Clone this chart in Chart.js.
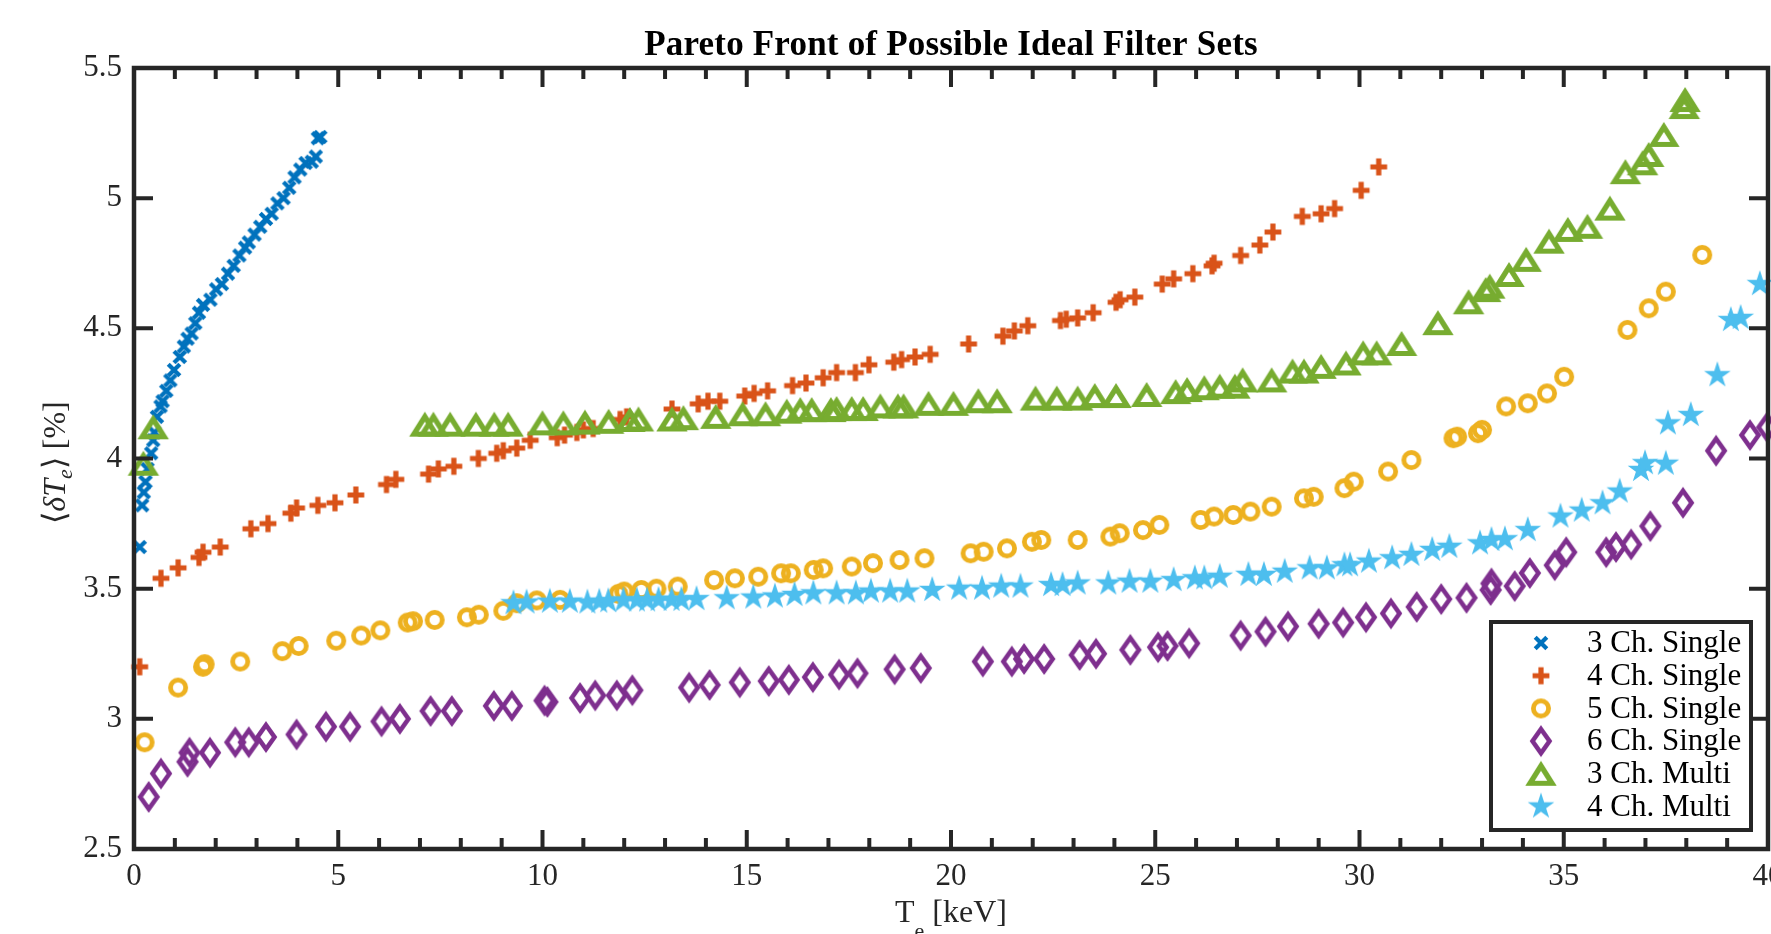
<!DOCTYPE html>
<html>
<head>
<meta charset="utf-8">
<title>Pareto Front of Possible Ideal Filter Sets</title>
<script src="https://cdn.jsdelivr.net/npm/chart.js@4.4.1/dist/chart.umd.min.js"></script>
<style>
  html, body { margin: 0; padding: 0; background: #fff; overflow: hidden; }
  canvas { display: block; }
</style>
</head>
<body>
<canvas id="pareto" width="1771" height="934"></canvas>
<script>
// ── Data ──────────────────────────────────────────────────────
const seriesLabels = ['3 Ch. Single', '4 Ch. Single', '5 Ch. Single', '6 Ch. Single', '3 Ch. Multi', '4 Ch. Multi'];

const ch3SingleX = [0.14,0.20,0.24,0.28,0.33,0.42,0.47,0.50,0.56,0.65,0.70,0.79,0.89,0.98,1.12,1.22,1.31,1.41,1.50,1.59,1.69,1.87,2.01,2.15,2.30,2.44,2.58,2.72,2.81,2.95,3.09,3.23,3.37,3.51,3.66,3.80,3.93,4.07,4.20,4.35,4.45,4.50,4.56];
const ch3SingleY = [3.66,3.82,3.87,3.91,3.96,4.02,4.07,4.10,4.16,4.20,4.22,4.26,4.30,4.34,4.39,4.43,4.46,4.48,4.52,4.56,4.59,4.61,4.65,4.67,4.71,4.74,4.78,4.81,4.83,4.86,4.89,4.92,4.94,4.98,5.00,5.04,5.08,5.11,5.135,5.14,5.16,5.23,5.235];

const ch4SingleX = [0.14,0.66,1.08,1.59,1.69,2.11,2.86,3.28,3.84,3.98,4.50,4.92,5.43,6.18,6.41,7.21,7.45,7.83,8.43,8.88,9.04,9.37,9.70,10.36,10.54,10.84,11.00,11.24,11.90,12.06,13.17,13.81,14.05,14.34,14.95,15.18,15.51,16.12,16.45,16.87,17.20,17.66,17.99,18.60,18.79,19.12,19.49,20.43,21.27,21.55,21.88,22.68,22.82,23.10,23.48,24.04,24.14,24.50,25.17,25.45,25.92,26.39,26.44,27.09,27.56,27.88,28.60,29.06,29.39,30.04,30.47];
const ch4SingleY = [3.20,3.54,3.58,3.62,3.64,3.66,3.73,3.75,3.79,3.81,3.82,3.83,3.86,3.90,3.92,3.94,3.96,3.97,4.00,4.02,4.03,4.04,4.07,4.08,4.09,4.10,4.11,4.115,4.15,4.16,4.19,4.21,4.22,4.22,4.24,4.25,4.26,4.28,4.29,4.31,4.33,4.33,4.36,4.37,4.38,4.39,4.40,4.44,4.47,4.49,4.51,4.53,4.535,4.54,4.56,4.60,4.61,4.62,4.67,4.69,4.71,4.74,4.75,4.78,4.82,4.87,4.93,4.94,4.96,5.03,5.12];

const ch5SingleX = [0.26,1.08,1.69,1.73,2.60,3.63,4.03,4.95,5.56,6.03,6.70,6.83,7.36,8.15,8.44,9.04,9.37,9.86,10.43,11.86,12.00,12.42,12.79,13.31,14.20,14.71,15.28,15.84,16.08,16.64,16.87,17.57,18.09,18.74,19.35,20.48,20.80,21.37,21.98,22.21,23.10,23.90,24.13,24.70,25.10,26.11,26.44,26.91,27.33,27.85,28.64,28.88,29.63,29.86,30.70,31.27,32.30,32.39,32.90,33.00,33.59,34.12,34.59,35.01,36.56,37.08,37.50,38.39];
const ch5SingleY = [2.91,3.12,3.20,3.21,3.22,3.26,3.28,3.30,3.32,3.34,3.37,3.375,3.38,3.39,3.40,3.415,3.444,3.455,3.457,3.48,3.489,3.495,3.50,3.508,3.533,3.54,3.546,3.559,3.559,3.572,3.578,3.585,3.598,3.61,3.617,3.636,3.642,3.655,3.68,3.687,3.687,3.70,3.713,3.725,3.745,3.764,3.777,3.783,3.796,3.815,3.847,3.853,3.886,3.911,3.95,3.994,4.078,4.084,4.097,4.11,4.20,4.212,4.25,4.314,4.494,4.577,4.641,4.782];

const ch6SingleX = [0.36,0.66,1.31,1.36,1.86,2.48,2.81,3.23,3.98,4.70,5.29,6.06,6.51,7.26,7.78,8.81,9.25,10.05,10.12,10.92,11.29,11.82,12.20,13.59,14.09,14.83,15.54,16.03,16.62,17.26,17.71,18.62,19.26,20.78,21.49,21.79,22.28,23.15,23.55,24.39,25.07,25.30,25.83,27.09,27.70,28.25,29.00,29.60,30.16,30.77,31.40,32.00,32.62,33.21,33.23,33.80,34.17,34.78,35.06,36.04,36.28,36.65,37.12,37.92,38.73,39.56,39.98];
const ch6SingleY = [2.70,2.79,2.835,2.87,2.87,2.91,2.91,2.93,2.94,2.97,2.97,2.99,3.00,3.03,3.03,3.05,3.05,3.07,3.065,3.08,3.09,3.09,3.11,3.12,3.13,3.14,3.145,3.15,3.16,3.17,3.175,3.19,3.195,3.22,3.22,3.23,3.23,3.245,3.25,3.265,3.275,3.28,3.29,3.32,3.335,3.355,3.365,3.37,3.39,3.405,3.43,3.46,3.465,3.495,3.52,3.51,3.56,3.59,3.64,3.64,3.66,3.67,3.74,3.83,4.03,4.09,4.12];

const ch3MultiX = [0.23,0.47,7.12,7.33,7.74,8.37,8.82,9.16,10.00,10.51,11.04,11.62,12.14,12.35,13.17,13.45,14.24,14.90,15.46,15.98,16.31,16.59,17.06,17.20,17.57,17.85,18.27,18.70,18.84,19.45,20.06,20.67,21.13,22.07,22.59,23.10,23.52,24.04,24.79,25.50,25.78,26.20,26.58,26.95,27.14,27.85,28.36,28.64,29.06,29.67,30.09,30.42,31.03,31.92,32.67,33.09,33.19,33.66,34.08,34.64,35.10,35.58,36.13,36.51,36.93,37.08,37.45,37.95,37.97];
const ch3MultiY = [3.98,4.12,4.13,4.13,4.13,4.13,4.13,4.13,4.135,4.135,4.138,4.141,4.148,4.15,4.15,4.155,4.16,4.17,4.17,4.18,4.186,4.186,4.186,4.19,4.19,4.19,4.20,4.20,4.20,4.21,4.21,4.22,4.22,4.23,4.23,4.23,4.24,4.24,4.244,4.255,4.263,4.27,4.276,4.276,4.30,4.30,4.334,4.334,4.352,4.365,4.404,4.404,4.44,4.52,4.60,4.647,4.66,4.705,4.763,4.833,4.878,4.89,4.96,5.10,5.134,5.166,5.243,5.35,5.377];

const ch4MultiX = [9.29,9.61,10.18,10.67,11.10,11.39,11.61,11.98,12.31,12.56,12.84,13.16,13.40,13.77,14.51,15.16,15.69,16.17,16.63,17.20,17.67,18.04,18.51,18.93,19.54,20.20,20.76,21.23,21.70,22.45,22.73,23.10,23.85,24.37,24.88,25.45,25.97,26.20,26.58,27.28,27.66,28.17,28.78,29.20,29.63,29.77,30.23,30.80,31.27,31.78,32.20,32.95,33.23,33.56,34.12,34.92,35.44,35.95,36.37,36.89,36.99,37.50,37.55,38.11,38.76,39.09,39.33,39.80];
const ch4MultiY = [3.444,3.447,3.45,3.45,3.447,3.45,3.452,3.455,3.455,3.455,3.457,3.457,3.457,3.46,3.463,3.466,3.47,3.476,3.482,3.482,3.482,3.489,3.489,3.489,3.495,3.50,3.50,3.508,3.508,3.514,3.514,3.52,3.52,3.527,3.527,3.533,3.54,3.54,3.546,3.553,3.553,3.565,3.578,3.578,3.59,3.59,3.604,3.617,3.63,3.649,3.661,3.674,3.687,3.69,3.725,3.777,3.80,3.828,3.873,3.956,3.982,3.98,4.135,4.167,4.32,4.532,4.54,4.67];

const xTickValues = [0, 5, 10, 15, 20, 25, 30, 35, 40];
const yTickValues = [2.5, 3, 3.5, 4, 4.5, 5, 5.5];

// ── Styling ───────────────────────────────────────────────────
const AXIS_CLR = '#262626';
const SERIF    = '"Liberation Serif", "Times New Roman", serif';
const COLORS   = ['#0072BD', '#D95319', '#EDB120', '#7E2F8E', '#77AC30', '#4DBEEE'];
const KINDS    = ['x', 'plus', 'circle', 'diamond', 'triangle', 'star'];

// MATLAB-like marker glyphs drawn once into small canvases
function makeMarker(kind, color) {
    const c = document.createElement('canvas');
    c.width = c.height = 46;
    const g = c.getContext('2d');
    g.translate(23, 23);
    g.strokeStyle = color;
    g.fillStyle = color;
    g.lineJoin = 'miter';
    g.miterLimit = 10;
    g.beginPath();
    switch (kind) {
        case 'x':
            g.lineWidth = 4.2;
            g.moveTo(-5.8, -5.8); g.lineTo(5.8, 5.8);
            g.moveTo(5.8, -5.8);  g.lineTo(-5.8, 5.8);
            g.stroke();
            break;
        case 'plus':
            g.lineWidth = 5.2;
            g.moveTo(-8.4, 0); g.lineTo(8.4, 0);
            g.moveTo(0, -8.4); g.lineTo(0, 8.4);
            g.stroke();
            break;
        case 'circle':
            g.lineWidth = 4.8;
            g.arc(0, 0, 7.6, 0, Math.PI * 2);
            g.stroke();
            break;
        case 'diamond':
            g.lineWidth = 4.6;
            g.moveTo(0, -12); g.lineTo(8.5, 0); g.lineTo(0, 12); g.lineTo(-8.5, 0);
            g.closePath();
            g.stroke();
            break;
        case 'triangle':
            g.lineWidth = 5.2;
            g.moveTo(0, -8); g.lineTo(11, 9.5); g.lineTo(-11, 9.5);
            g.closePath();
            g.stroke();
            break;
        case 'star': {
            const R = 14, r = R * 0.382;
            for (let i = 0; i < 10; i++) {
                const ang = -Math.PI / 2 + i * Math.PI / 5;
                const rad = i % 2 ? r : R;
                const px = Math.cos(ang) * rad, py = Math.sin(ang) * rad;
                i ? g.lineTo(px, py) : g.moveTo(px, py);
            }
            g.closePath();
            g.fill();
            break;
        }
    }
    return c;
}
const MARKERS = KINDS.map((k, i) => makeMarker(k, COLORS[i]));

const seriesX = [ch3SingleX, ch4SingleX, ch5SingleX, ch6SingleX, ch3MultiX, ch4MultiX];
const seriesY = [ch3SingleY, ch4SingleY, ch5SingleY, ch6SingleY, ch3MultiY, ch4MultiY];

const datasets = seriesLabels.map((label, i) => ({
    label,
    data: seriesX[i].map((x, j) => ({ x, y: seriesY[i][j] })),
    pointStyle: MARKERS[i],
    pointRadius: 10,
    pointHoverRadius: 10,
    borderColor: COLORS[i],
    backgroundColor: COLORS[i],
    showLine: false,
    clip: false,
    order: seriesLabels.length - i,   // later series on top, as in MATLAB
}));

// ── Helpers for mixed-font labels (subscripts) ────────────────
function drawRich(ctx, parts, cx, baseY) {
    let total = 0;
    parts.forEach(p => { ctx.font = p.font; p.w = ctx.measureText(p.t).width; total += p.w; });
    let x = cx - total / 2;
    ctx.textAlign = 'left';
    ctx.textBaseline = 'alphabetic';
    parts.forEach(p => { ctx.font = p.font; ctx.fillText(p.t, x, baseY + (p.dy || 0)); x += p.w; });
}

// ── Frame, ticks, labels, title, legend ───────────────────────
const matlabFrame = {
    id: 'matlabFrame',
    afterDatasetsDraw(chart) {
        const { ctx, chartArea: a, scales: { x, y } } = chart;
        ctx.save();
        ctx.strokeStyle = AXIS_CLR;
        ctx.lineWidth = 4;
        ctx.lineCap = 'butt';
        ctx.beginPath();
        for (let v = x.min; v <= x.max; v += 1) {
            const px = x.getPixelForValue(v);
            const len = v % 5 === 0 ? 19 : 11;
            ctx.moveTo(px, a.bottom); ctx.lineTo(px, a.bottom - len);
            ctx.moveTo(px, a.top);    ctx.lineTo(px, a.top + len);
        }
        yTickValues.forEach(v => {
            const py = y.getPixelForValue(v);
            ctx.moveTo(a.left, py);  ctx.lineTo(a.left + 19, py);
            ctx.moveTo(a.right, py); ctx.lineTo(a.right - 19, py);
        });
        ctx.stroke();
        ctx.lineWidth = 4.5;
        ctx.strokeRect(a.left, a.top, a.right - a.left, a.bottom - a.top);

        // x tick labels (drawn here so the "40" may run off the canvas edge)
        ctx.fillStyle = AXIS_CLR;
        ctx.font = `31px ${SERIF}`;
        ctx.textAlign = 'center';
        ctx.textBaseline = 'middle';
        xTickValues.forEach(v => ctx.fillText(String(v), x.getPixelForValue(v), a.bottom + 28));
        ctx.restore();
    },
    afterDraw(chart) {
        const { ctx, chartArea: a } = chart;
        ctx.save();

        // title
        ctx.fillStyle = '#000';
        ctx.font = `bold 35px ${SERIF}`;
        ctx.letterSpacing = '0.2px';
        ctx.textAlign = 'center';
        ctx.textBaseline = 'alphabetic';
        ctx.fillText('Pareto Front of Possible Ideal Filter Sets', (a.left + a.right) / 2, 55);
        ctx.letterSpacing = '0px';

        // x label: T_e [keV]
        ctx.fillStyle = AXIS_CLR;
        drawRich(ctx, [
            { t: 'T', font: `32px ${SERIF}` },
            { t: 'e', font: `22px ${SERIF}`, dy: 16 },
            { t: ' [keV]', font: `32px ${SERIF}` },
        ], (a.left + a.right) / 2, 922);

        // y label: <dT_e> [%]
        ctx.save();
        ctx.translate(65, (a.top + a.bottom) / 2 + 4);
        ctx.rotate(-Math.PI / 2);
        drawRich(ctx, [
            { t: '\u27E8', font: `32px ${SERIF}` },
            { t: '\u03B4T', font: `italic 32px ${SERIF}` },
            { t: 'e', font: `italic 22px ${SERIF}`, dy: 7 },
            { t: '\u27E9', font: `32px ${SERIF}` },
            { t: ' [%]', font: `32px ${SERIF}` },
        ], 0, 0);
        ctx.restore();

        // legend box
        const L = { left: 1491, top: 622, w: 260, h: 208 };
        ctx.fillStyle = '#fff';
        ctx.fillRect(L.left, L.top, L.w, L.h);
        ctx.strokeStyle = AXIS_CLR;
        ctx.lineWidth = 4;
        ctx.strokeRect(L.left, L.top, L.w, L.h);
        ctx.font = `31px ${SERIF}`;
        ctx.fillStyle = '#000';
        ctx.textAlign = 'left';
        ctx.textBaseline = 'middle';
        chart.data.datasets.forEach((ds, i) => {
            const cy = L.top + 21 + i * 32.7;
            const m = ds.pointStyle;
            ctx.drawImage(m, 1541 - m.width / 2, cy - m.height / 2);
            ctx.fillText(ds.label, 1587, cy + 1);
        });
        ctx.restore();
    },
};

const tickFont = { family: SERIF, size: 31 };

new Chart(document.getElementById('pareto'), {
    type: 'scatter',
    data: { datasets },
    options: {
        responsive: false,
        animation: false,
        devicePixelRatio: 1,
        events: [],
        layout: { autoPadding: false, padding: { top: 68, right: 3, left: 0, bottom: 0 } },
        plugins: {
            legend: { display: false },
            tooltip: { enabled: false },
            title: { display: false },
        },
        scales: {
            x: {
                type: 'linear', min: 0, max: 40,
                grid: { display: false, drawTicks: false },
                border: { display: false },
                ticks: { display: false },
                afterBuildTicks: s => { s.ticks = xTickValues.map(v => ({ value: v })); },
                afterFit: s => { s.height = 85; },
            },
            y: {
                type: 'linear', min: 2.5, max: 5.5,
                grid: { display: false, drawTicks: false },
                border: { display: false },
                ticks: { font: tickFont, color: AXIS_CLR, padding: 12, callback: v => String(v) },
                afterBuildTicks: s => { s.ticks = yTickValues.map(v => ({ value: v })); },
                afterFit: s => { s.width = 134; },
            },
        },
    },
    plugins: [matlabFrame],
});
</script>
</body>
</html>
